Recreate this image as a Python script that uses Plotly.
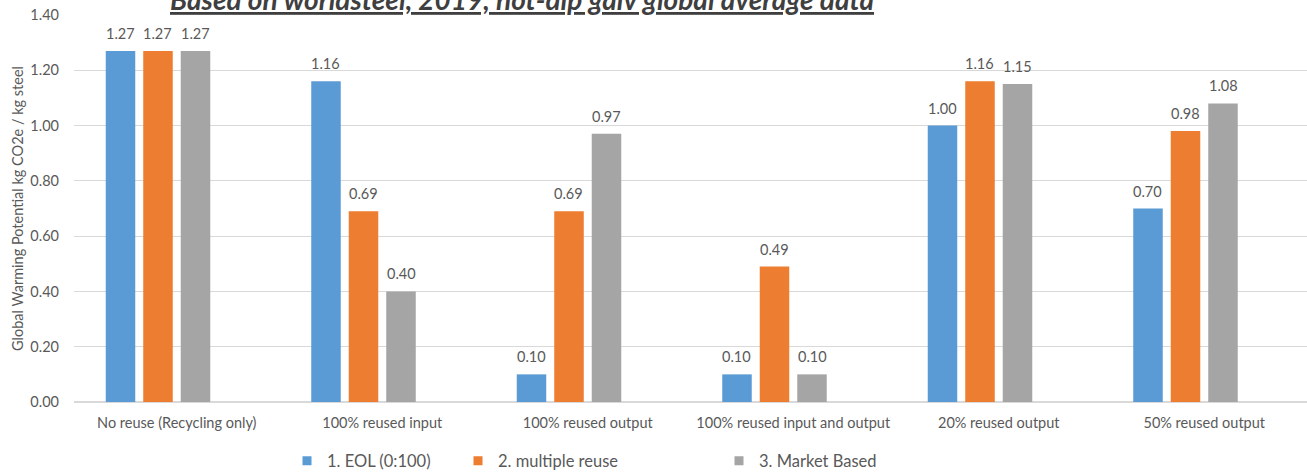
import plotly.graph_objects as go

categories = ["No reuse (Recycling only)", "100% reused input", "100% reused output",
              "100% reused input and output", "20% reused output", "50% reused output"]
series_names = ["1. EOL (0:100)", "2. multiple reuse", "3. Market Based"]
eol = [1.27, 1.16, 0.10, 0.10, 1.00, 0.70]
multiple_reuse = [1.27, 0.69, 0.69, 0.49, 1.16, 0.98]
market_based = [1.27, 0.40, 0.97, 0.10, 1.15, 1.08]
spacer = [None] * 6  # empty 4th series slot (as in the source chart)
y_ticks = [0.0, 0.2, 0.4, 0.6, 0.8, 1.0, 1.2, 1.4]

colors = ["#5B9BD5", "#ED7D31", "#A5A5A5"]
FONT = "Lato"
W, H = 1307, 472
ML, MR, MT, MB = 74, 0, 15, 70
BARGAP = 0.27
plot_w = W - ML - MR
plot_h = H - MT - MB
slot = plot_w / len(categories) * (1 - BARGAP) / 4

fig = go.Figure()
all_series = [eol, multiple_reuse, market_based]
for i, (name, vals) in enumerate(zip(series_names, all_series)):
    fig.add_trace(go.Bar(x=categories, y=vals, name=name, marker_color=colors[i],
                         marker_line_width=0, showlegend=False, hoverinfo="x+y"))
fig.add_trace(go.Bar(x=categories, y=spacer, showlegend=False, hoverinfo="skip",
                     marker_line_width=0))

# legend entries (separate legends, positioned like the source)
legend_x = [301, 472, 733]
for i, name in enumerate(series_names):
    lg = "legend" if i == 0 else f"legend{i+1}"
    fig.add_trace(go.Scatter(x=[None], y=[None], mode="markers", name=name,
                             marker=dict(symbol="square", size=9, color=colors[i]),
                             legend=lg))

# data labels
annotations = []
for i, vals in enumerate(all_series):
    for c, v in zip(categories, vals):
        annotations.append(dict(x=c, y=v, xref="x", yref="y", text=f"{v:.2f}",
                                showarrow=False, yanchor="bottom",
                                xshift=(i - 1.5) * slot, yshift=7,
                                font=dict(family=FONT, size=14.5, color="#595959")))

# title (cut off at top in the source)
annotations.append(dict(x=(522 - ML) / plot_w, y=1 + (MT - 17) / plot_h, xref="paper", yref="paper",
                        text="<b><i><u>Based on worldsteel, 2019, hot-dip galv global average data</u></i></b>",
                        showarrow=False, xanchor="center", yanchor="bottom", borderpad=0,
                        font=dict(family=FONT, size=28, color="#3F3F3F")))

layout_legends = {}
for i in range(3):
    key = "legend" if i == 0 else f"legend{i+1}"
    layout_legends[key] = dict(x=(legend_x[i] - ML - 14) / plot_w, y=(MT + plot_h - 461) / plot_h,
                               xanchor="left", yanchor="middle", orientation="h",
                               bgcolor="rgba(0,0,0,0)",
                               font=dict(family=FONT, size=16.5, color="#595959"))

fig.update_layout(
    width=W, height=H,
    margin=dict(l=ML, r=MR, t=MT, b=MB, autoexpand=False),
    paper_bgcolor="white", plot_bgcolor="white",
    barmode="group", bargap=BARGAP, bargroupgap=0.213,
    font=dict(family=FONT, size=14.5, color="#595959"),
    annotations=annotations,
    **layout_legends,
)
fig.update_xaxes(type="category", showgrid=False, showline=True, linecolor="#D9D9D9", linewidth=1,
                 ticks="", ticklabelstandoff=8,
                 tickfont=dict(family=FONT, size=14.5, color="#595959"))
fig.update_yaxes(range=[0, 1.4], tickvals=y_ticks, tickformat=".2f", showgrid=True,
                 gridcolor="#D9D9D9", gridwidth=1, zeroline=True, zerolinecolor="#D9D9D9",
                 showline=False, ticks="", ticklabelstandoff=14,
                 tickfont=dict(family=FONT, size=14.5, color="#595959"),
                 title=dict(text="Global Warming Potential kg CO2e / kg steel", standoff=3,
                            font=dict(family=FONT, size=14.5, color="#595959")))

fig.write_html("out.html")
